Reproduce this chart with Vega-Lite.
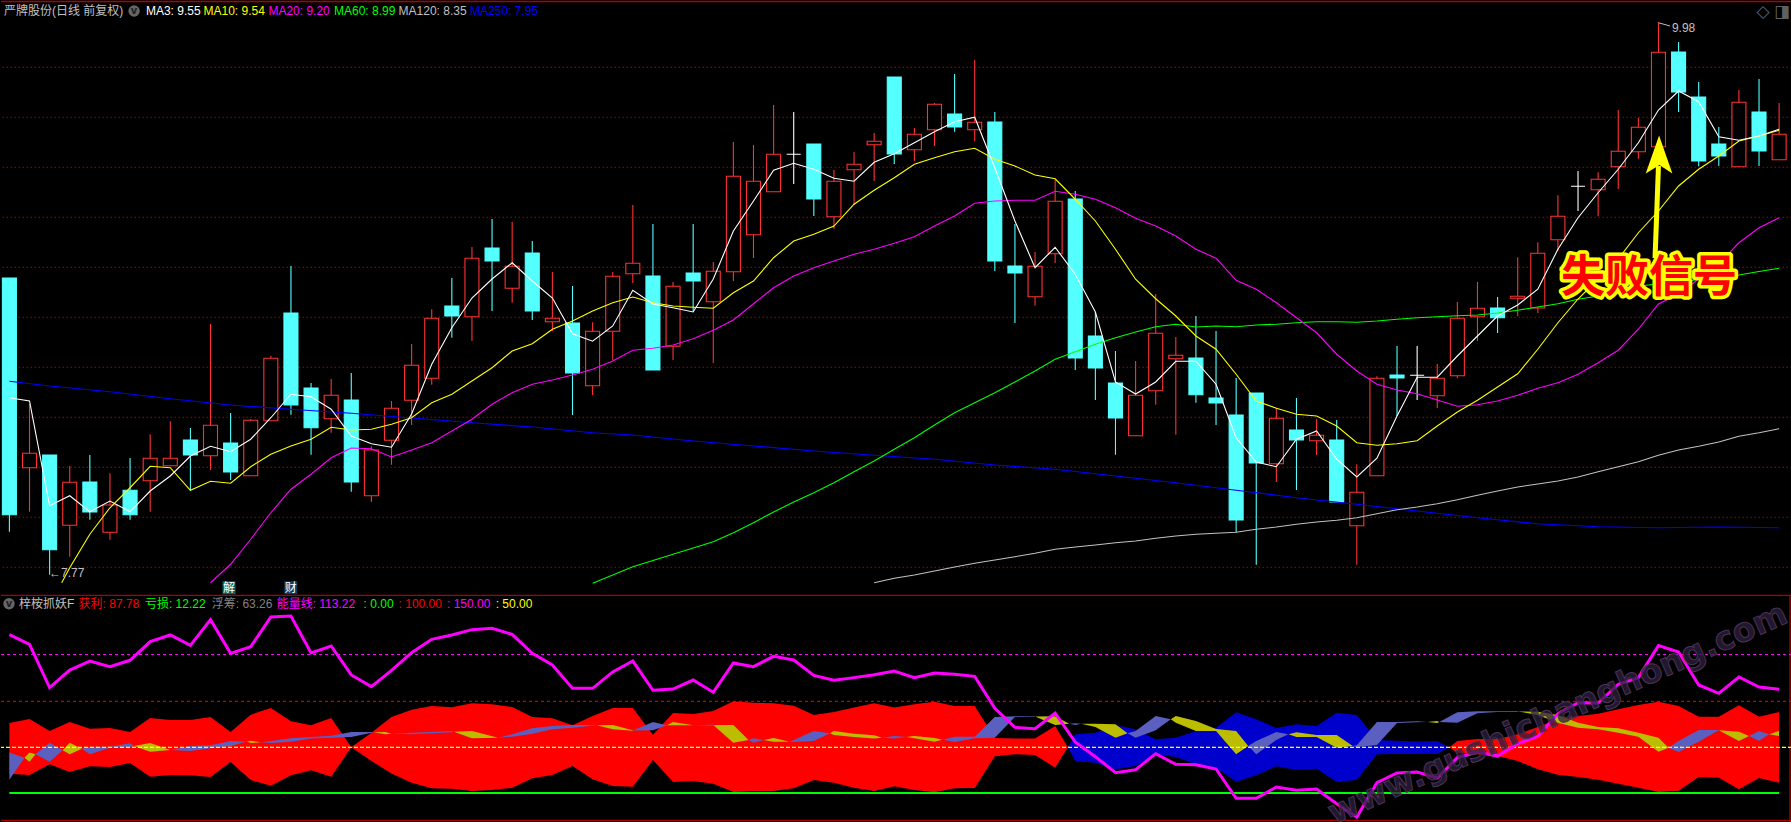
{"$schema":"https://vega.github.io/schema/vega-lite/v6.json","background":"#000000","padding":0,"spacing":0,"bounds":"flush","resolve":{"scale":{"color":"independent","fill":"independent","stroke":"independent"}},"config":{"view":{"stroke":null},"axis":{"disable":true},"concat":{"spacing":0}},
"datasets":{
"candles":[
{"n":0,"t":"d","o":8.957,"c":8.010,"h":8.957,"l":7.942},{"n":1,"t":"u","o":8.198,"c":8.256,"h":8.453,"l":8.022},{"n":2,"t":"d","o":8.249,"c":7.870,"h":8.249,"l":7.77},{"n":3,"t":"u","o":7.968,"c":8.140,"h":8.205,"l":7.842},{"n":4,"t":"d","o":8.141,"c":8.021,"h":8.249,"l":7.990},{"n":5,"t":"u","o":7.940,"c":8.049,"h":8.176,"l":7.910},{"n":6,"t":"d","o":8.108,"c":8.010,"h":8.237,"l":7.990},{"n":7,"t":"u","o":8.146,"c":8.236,"h":8.332,"l":8.022},{"n":8,"t":"u","o":8.206,"c":8.236,"h":8.384,"l":8.206},{"n":9,"t":"d","o":8.309,"c":8.249,"h":8.357,"l":8.105},
{"n":10,"t":"u","o":8.246,"c":8.368,"h":8.773,"l":8.189},{"n":11,"t":"d","o":8.297,"c":8.181,"h":8.417,"l":8.149},{"n":12,"t":"u","o":8.166,"c":8.388,"h":8.393,"l":8.166},{"n":13,"t":"u","o":8.386,"c":8.636,"h":8.645,"l":8.386},{"n":14,"t":"d","o":8.817,"c":8.449,"h":9.005,"l":8.410},{"n":15,"t":"d","o":8.517,"c":8.358,"h":8.537,"l":8.250},{"n":16,"t":"u","o":8.394,"c":8.488,"h":8.553,"l":8.338},{"n":17,"t":"d","o":8.469,"c":8.141,"h":8.577,"l":8.102},{"n":18,"t":"u","o":8.086,"c":8.269,"h":8.284,"l":8.061},{"n":19,"t":"u","o":8.308,"c":8.436,"h":8.465,"l":8.210},
{"n":20,"t":"u","o":8.468,"c":8.608,"h":8.693,"l":8.369},{"n":21,"t":"u","o":8.556,"c":8.796,"h":8.832,"l":8.530},{"n":22,"t":"d","o":8.845,"c":8.805,"h":8.957,"l":8.718},{"n":23,"t":"u","o":8.802,"c":9.036,"h":9.081,"l":8.705},{"n":24,"t":"d","o":9.077,"c":9.025,"h":9.193,"l":8.825},{"n":25,"t":"u","o":8.916,"c":9.004,"h":9.181,"l":8.858},{"n":26,"t":"d","o":9.057,"c":8.825,"h":9.105,"l":8.789},{"n":27,"t":"u","o":8.782,"c":8.796,"h":8.981,"l":8.745},{"n":28,"t":"d","o":8.777,"c":8.577,"h":8.925,"l":8.409},{"n":29,"t":"u","o":8.526,"c":8.744,"h":8.780,"l":8.489},
{"n":30,"t":"u","o":8.744,"c":8.964,"h":8.981,"l":8.628},{"n":31,"t":"u","o":8.974,"c":9.016,"h":9.249,"l":8.937},{"n":32,"t":"d","o":8.965,"c":8.589,"h":9.173,"l":8.589},{"n":33,"t":"u","o":8.684,"c":8.924,"h":8.941,"l":8.629},{"n":34,"t":"d","o":8.977,"c":8.945,"h":9.173,"l":8.825},{"n":35,"t":"u","o":8.862,"c":8.984,"h":9.021,"l":8.617},{"n":36,"t":"u","o":8.982,"c":9.364,"h":9.501,"l":8.945},{"n":37,"t":"u","o":9.130,"c":9.344,"h":9.489,"l":9.037},{"n":38,"t":"u","o":9.302,"c":9.452,"h":9.649,"l":9.302},{"n":39,"t":"x","o":9.452,"c":9.452,"h":9.621,"l":9.333},
{"n":40,"t":"d","o":9.493,"c":9.273,"h":9.493,"l":9.205},{"n":41,"t":"u","o":9.202,"c":9.344,"h":9.389,"l":9.154},{"n":42,"t":"u","o":9.390,"c":9.412,"h":9.461,"l":9.249},{"n":43,"t":"u","o":9.490,"c":9.504,"h":9.537,"l":9.345},{"n":44,"t":"d","o":9.761,"c":9.453,"h":9.761,"l":9.413},{"n":45,"t":"u","o":9.470,"c":9.532,"h":9.557,"l":9.425},{"n":46,"t":"u","o":9.550,"c":9.652,"h":9.657,"l":9.485},{"n":47,"t":"d","o":9.613,"c":9.561,"h":9.773,"l":9.542},{"n":48,"t":"u","o":9.550,"c":9.580,"h":9.829,"l":9.505},{"n":49,"t":"d","o":9.581,"c":9.025,"h":9.621,"l":8.985},
{"n":50,"t":"d","o":9.005,"c":8.977,"h":9.173,"l":8.777},{"n":51,"t":"u","o":8.882,"c":9.004,"h":9.061,"l":8.846},{"n":52,"t":"u","o":9.054,"c":9.264,"h":9.349,"l":9.017},{"n":53,"t":"d","o":9.273,"c":8.637,"h":9.305,"l":8.589},{"n":54,"t":"d","o":8.725,"c":8.597,"h":8.821,"l":8.469},{"n":55,"t":"d","o":8.537,"c":8.397,"h":8.665,"l":8.250},{"n":56,"t":"u","o":8.326,"c":8.488,"h":8.625,"l":8.326},{"n":57,"t":"u","o":8.506,"c":8.736,"h":8.893,"l":8.450},{"n":58,"t":"u","o":8.634,"c":8.648,"h":8.721,"l":8.330},{"n":59,"t":"d","o":8.637,"c":8.490,"h":8.805,"l":8.458},
{"n":60,"t":"d","o":8.477,"c":8.457,"h":8.745,"l":8.369},{"n":61,"t":"d","o":8.409,"c":7.989,"h":8.557,"l":7.940},{"n":62,"t":"d","o":8.497,"c":8.217,"h":8.497,"l":7.810},{"n":63,"t":"u","o":8.214,"c":8.396,"h":8.438,"l":8.141},{"n":64,"t":"d","o":8.349,"c":8.309,"h":8.477,"l":8.109},{"n":65,"t":"u","o":8.306,"c":8.328,"h":8.393,"l":8.249},{"n":66,"t":"d","o":8.309,"c":8.061,"h":8.389,"l":8.061},{"n":67,"t":"u","o":7.966,"c":8.100,"h":8.212,"l":7.810},{"n":68,"t":"u","o":8.166,"c":8.556,"h":8.564,"l":8.166},{"n":69,"t":"d","o":8.569,"c":8.557,"h":8.685,"l":8.405},
{"n":70,"t":"x","o":8.568,"c":8.568,"h":8.685,"l":8.469},{"n":71,"t":"u","o":8.486,"c":8.556,"h":8.613,"l":8.437},{"n":72,"t":"u","o":8.566,"c":8.796,"h":8.861,"l":8.557},{"n":73,"t":"u","o":8.802,"c":8.836,"h":8.941,"l":8.705},{"n":74,"t":"d","o":8.837,"c":8.798,"h":8.881,"l":8.737},{"n":75,"t":"u","o":8.876,"c":8.884,"h":9.040,"l":8.804},{"n":76,"t":"u","o":8.837,"c":9.056,"h":9.100,"l":8.817},{"n":77,"t":"u","o":9.110,"c":9.204,"h":9.288,"l":9.065},{"n":78,"t":"x","o":9.324,"c":9.324,"h":9.385,"l":9.225},{"n":79,"t":"u","o":9.310,"c":9.352,"h":9.380,"l":9.204},
{"n":80,"t":"u","o":9.402,"c":9.464,"h":9.629,"l":9.313},{"n":81,"t":"u","o":9.462,"c":9.560,"h":9.598,"l":9.434},{"n":82,"t":"u","o":9.482,"c":9.860,"h":9.98,"l":9.482},{"n":83,"t":"d","o":9.861,"c":9.701,"h":9.901,"l":9.621},{"n":84,"t":"d","o":9.681,"c":9.425,"h":9.741,"l":9.404},{"n":85,"t":"d","o":9.493,"c":9.445,"h":9.561,"l":9.405},{"n":86,"t":"u","o":9.402,"c":9.660,"h":9.709,"l":9.402},{"n":87,"t":"d","o":9.621,"c":9.465,"h":9.753,"l":9.405},{"n":88,"t":"u","o":9.430,"c":9.532,"h":9.657,"l":9.430}],
"ma3":[{"n":0,"p":8.478},{"n":1,"p":8.465},{"n":2,"p":8.046},{"n":3,"p":8.086},{"n":4,"p":8.022},{"n":5,"p":8.065},{"n":6,"p":8.022},{"n":7,"p":8.105},{"n":8,"p":8.165},{"n":9,"p":8.245},{"n":10,"p":8.284},{"n":11,"p":8.262},{"n":12,"p":8.312},{"n":13,"p":8.398},{"n":14,"p":8.492},{"n":15,"p":8.482},{"n":16,"p":8.432},{"n":17,"p":8.325},{"n":18,"p":8.294},{"n":19,"p":8.280},{"n":20,"p":8.413},{"n":21,"p":8.612},{"n":22,"p":8.758},{"n":23,"p":8.877},{"n":24,"p":8.953},{"n":25,"p":9.018},{"n":26,"p":8.945},{"n":27,"p":8.877},{"n":28,"p":8.734},{"n":29,"p":8.704},{"n":30,"p":8.765},{"n":31,"p":8.908},{"n":32,"p":8.853},{"n":33,"p":8.838},{"n":34,"p":8.821},{"n":35,"p":8.953},{"n":36,"p":9.145},{"n":37,"p":9.265},{"n":38,"p":9.388},{"n":39,"p":9.416},{"n":40,"p":9.392},{"n":41,"p":9.356},{"n":42,"p":9.344},{"n":43,"p":9.420},{"n":44,"p":9.454},{"n":45,"p":9.498},{"n":46,"p":9.542},{"n":47,"p":9.582},{"n":48,"p":9.600},{"n":49,"p":9.398},{"n":50,"p":9.185},{"n":51,"p":8.998},{"n":52,"p":9.080},{"n":53,"p":8.972},{"n":54,"p":8.821},{"n":55,"p":8.541},{"n":56,"p":8.493},{"n":57,"p":8.541},{"n":58,"p":8.624},{"n":59,"p":8.624},{"n":60,"p":8.532},{"n":61,"p":8.318},{"n":62,"p":8.221},{"n":63,"p":8.202},{"n":64,"p":8.312},{"n":65,"p":8.345},{"n":66,"p":8.232},{"n":67,"p":8.161},{"n":68,"p":8.236},{"n":69,"p":8.405},{"n":70,"p":8.560},{"n":71,"p":8.560},{"n":72,"p":8.645},{"n":73,"p":8.725},{"n":74,"p":8.805},{"n":75,"p":8.849},{"n":76,"p":8.912},{"n":77,"p":9.072},{"n":78,"p":9.198},{"n":79,"p":9.298},{"n":80,"p":9.392},{"n":81,"p":9.498},{"n":82,"p":9.629},{"n":83,"p":9.705},{"n":84,"p":9.662},{"n":85,"p":9.522},{"n":86,"p":9.508},{"n":87,"p":9.525},{"n":88,"p":9.552}],
"ma10":[{"n":2.6,"p":7.738},{"n":3,"p":7.798},{"n":4,"p":7.932},{"n":5,"p":8.038},{"n":6,"p":8.118},{"n":7,"p":8.204},{"n":8,"p":8.198},{"n":9,"p":8.108},{"n":10,"p":8.144},{"n":11,"p":8.136},{"n":12,"p":8.202},{"n":13,"p":8.252},{"n":14,"p":8.285},{"n":15,"p":8.312},{"n":16,"p":8.360},{"n":17,"p":8.349},{"n":18,"p":8.352},{"n":19,"p":8.372},{"n":20,"p":8.398},{"n":21,"p":8.458},{"n":22,"p":8.492},{"n":23,"p":8.545},{"n":24,"p":8.598},{"n":25,"p":8.665},{"n":26,"p":8.694},{"n":27,"p":8.752},{"n":28,"p":8.785},{"n":29,"p":8.825},{"n":30,"p":8.858},{"n":31,"p":8.881},{"n":32,"p":8.858},{"n":33,"p":8.845},{"n":34,"p":8.840},{"n":35,"p":8.836},{"n":36,"p":8.898},{"n":37,"p":8.945},{"n":38,"p":9.038},{"n":39,"p":9.105},{"n":40,"p":9.132},{"n":41,"p":9.165},{"n":42,"p":9.252},{"n":43,"p":9.308},{"n":44,"p":9.358},{"n":45,"p":9.412},{"n":46,"p":9.438},{"n":47,"p":9.462},{"n":48,"p":9.476},{"n":49,"p":9.432},{"n":50,"p":9.405},{"n":51,"p":9.369},{"n":52,"p":9.354},{"n":53,"p":9.272},{"n":54,"p":9.185},{"n":55,"p":9.072},{"n":56,"p":8.952},{"n":57,"p":8.874},{"n":58,"p":8.805},{"n":59,"p":8.725},{"n":60,"p":8.672},{"n":61,"p":8.572},{"n":62,"p":8.465},{"n":63,"p":8.436},{"n":64,"p":8.412},{"n":65,"p":8.405},{"n":66,"p":8.365},{"n":67,"p":8.298},{"n":68,"p":8.288},{"n":69,"p":8.294},{"n":70,"p":8.306},{"n":71,"p":8.365},{"n":72,"p":8.421},{"n":73,"p":8.468},{"n":74,"p":8.521},{"n":75,"p":8.574},{"n":76,"p":8.672},{"n":77,"p":8.778},{"n":78,"p":8.873},{"n":79,"p":8.953},{"n":80,"p":9.033},{"n":81,"p":9.138},{"n":82,"p":9.225},{"n":83,"p":9.325},{"n":84,"p":9.392},{"n":85,"p":9.445},{"n":86,"p":9.505},{"n":87,"p":9.525},{"n":88,"p":9.548}],
"ma20":[{"n":10,"p":7.738},{"n":11,"p":7.812},{"n":12,"p":7.912},{"n":13,"p":8.018},{"n":14,"p":8.112},{"n":15,"p":8.172},{"n":16,"p":8.238},{"n":17,"p":8.277},{"n":18,"p":8.274},{"n":19,"p":8.241},{"n":20,"p":8.269},{"n":21,"p":8.298},{"n":22,"p":8.345},{"n":23,"p":8.392},{"n":24,"p":8.452},{"n":25,"p":8.498},{"n":26,"p":8.532},{"n":27,"p":8.549},{"n":28,"p":8.569},{"n":29,"p":8.592},{"n":30,"p":8.625},{"n":31,"p":8.668},{"n":32,"p":8.676},{"n":33,"p":8.689},{"n":34,"p":8.714},{"n":35,"p":8.748},{"n":36,"p":8.789},{"n":37,"p":8.854},{"n":38,"p":8.918},{"n":39,"p":8.965},{"n":40,"p":8.998},{"n":41,"p":9.025},{"n":42,"p":9.052},{"n":43,"p":9.072},{"n":44,"p":9.096},{"n":45,"p":9.122},{"n":46,"p":9.165},{"n":47,"p":9.205},{"n":48,"p":9.256},{"n":49,"p":9.265},{"n":50,"p":9.268},{"n":51,"p":9.268},{"n":52,"p":9.304},{"n":53,"p":9.292},{"n":54,"p":9.272},{"n":55,"p":9.238},{"n":56,"p":9.196},{"n":57,"p":9.165},{"n":58,"p":9.125},{"n":59,"p":9.072},{"n":60,"p":9.036},{"n":61,"p":8.948},{"n":62,"p":8.912},{"n":63,"p":8.858},{"n":64,"p":8.798},{"n":65,"p":8.738},{"n":66,"p":8.652},{"n":67,"p":8.585},{"n":68,"p":8.532},{"n":69,"p":8.509},{"n":70,"p":8.494},{"n":71,"p":8.469},{"n":72,"p":8.444},{"n":73,"p":8.450},{"n":74,"p":8.465},{"n":75,"p":8.488},{"n":76,"p":8.516},{"n":77,"p":8.538},{"n":78,"p":8.572},{"n":79,"p":8.618},{"n":80,"p":8.668},{"n":81,"p":8.752},{"n":82,"p":8.853},{"n":83,"p":8.893},{"n":84,"p":8.953},{"n":85,"p":9.013},{"n":86,"p":9.098},{"n":87,"p":9.158},{"n":88,"p":9.198}],
"ma60":[{"n":29,"p":7.736},{"n":31,"p":7.802},{"n":33,"p":7.852},{"n":35,"p":7.902},{"n":36,"p":7.938},{"n":37,"p":7.978},{"n":38,"p":8.021},{"n":39,"p":8.061},{"n":40,"p":8.098},{"n":41,"p":8.138},{"n":42,"p":8.182},{"n":43,"p":8.225},{"n":44,"p":8.272},{"n":45,"p":8.318},{"n":46,"p":8.369},{"n":47,"p":8.418},{"n":48,"p":8.458},{"n":49,"p":8.498},{"n":50,"p":8.541},{"n":51,"p":8.585},{"n":52,"p":8.632},{"n":53,"p":8.662},{"n":54,"p":8.692},{"n":55,"p":8.718},{"n":56,"p":8.741},{"n":57,"p":8.762},{"n":58,"p":8.772},{"n":59,"p":8.761},{"n":60,"p":8.765},{"n":61,"p":8.762},{"n":62,"p":8.769},{"n":63,"p":8.772},{"n":64,"p":8.778},{"n":65,"p":8.782},{"n":66,"p":8.782},{"n":67,"p":8.780},{"n":68,"p":8.785},{"n":69,"p":8.792},{"n":70,"p":8.798},{"n":71,"p":8.802},{"n":72,"p":8.806},{"n":73,"p":8.809},{"n":74,"p":8.817},{"n":75,"p":8.828},{"n":76,"p":8.841},{"n":77,"p":8.854},{"n":78,"p":8.872},{"n":79,"p":8.885},{"n":80,"p":8.905},{"n":81,"p":8.925},{"n":82,"p":8.933},{"n":83,"p":8.941},{"n":84,"p":8.951},{"n":85,"p":8.961},{"n":86,"p":8.969},{"n":87,"p":8.983},{"n":88,"p":8.996}],
"ma120":[{"n":43,"p":7.738},{"n":44,"p":7.756},{"n":45,"p":7.769},{"n":46,"p":7.785},{"n":47,"p":7.801},{"n":48,"p":7.816},{"n":49,"p":7.829},{"n":50,"p":7.842},{"n":51,"p":7.856},{"n":52,"p":7.872},{"n":53,"p":7.881},{"n":54,"p":7.889},{"n":55,"p":7.898},{"n":56,"p":7.905},{"n":57,"p":7.916},{"n":58,"p":7.925},{"n":59,"p":7.932},{"n":60,"p":7.936},{"n":61,"p":7.940},{"n":62,"p":7.952},{"n":63,"p":7.961},{"n":64,"p":7.972},{"n":65,"p":7.981},{"n":66,"p":7.988},{"n":67,"p":7.998},{"n":68,"p":8.014},{"n":69,"p":8.030},{"n":70,"p":8.041},{"n":71,"p":8.054},{"n":72,"p":8.070},{"n":73,"p":8.088},{"n":74,"p":8.105},{"n":75,"p":8.121},{"n":76,"p":8.133},{"n":77,"p":8.145},{"n":78,"p":8.161},{"n":79,"p":8.182},{"n":80,"p":8.202},{"n":81,"p":8.222},{"n":82,"p":8.248},{"n":83,"p":8.269},{"n":84,"p":8.284},{"n":85,"p":8.301},{"n":86,"p":8.324},{"n":87,"p":8.338},{"n":88,"p":8.354}],
"ma250":[{"n":0,"p":8.544},{"n":2,"p":8.525},{"n":5,"p":8.502},{"n":8,"p":8.474},{"n":11,"p":8.449},{"n":14,"p":8.432},{"n":17,"p":8.416},{"n":20,"p":8.397},{"n":23,"p":8.378},{"n":26,"p":8.361},{"n":29,"p":8.338},{"n":31,"p":8.329},{"n":34,"p":8.305},{"n":37,"p":8.285},{"n":40,"p":8.265},{"n":43,"p":8.248},{"n":46,"p":8.232},{"n":49,"p":8.209},{"n":52,"p":8.192},{"n":55,"p":8.165},{"n":58,"p":8.138},{"n":61,"p":8.108},{"n":64,"p":8.078},{"n":67,"p":8.052},{"n":70,"p":8.025},{"n":73,"p":7.998},{"n":76,"p":7.974},{"n":79,"p":7.962},{"n":82,"p":7.958},{"n":85,"p":7.961},{"n":88,"p":7.958}],
"energy":[{"n":0,"v":172.7},{"n":1,"v":162.1},{"n":2,"v":114.9},{"n":3,"v":134.1},{"n":4,"v":143.9},{"n":5,"v":137.8},{"n":6,"v":144.7},{"n":7,"v":165},{"n":8,"v":172.3},{"n":9,"v":161},{"n":10,"v":189},{"n":11,"v":152.3},{"n":12,"v":159.6},{"n":13,"v":191.9},{"n":14,"v":193},{"n":15,"v":152.7},{"n":16,"v":160.3},{"n":17,"v":128.7},{"n":18,"v":116},{"n":19,"v":133.8},{"n":20,"v":153},{"n":21,"v":167.6},{"n":22,"v":172.3},{"n":23,"v":178.1},{"n":24,"v":179.6},{"n":25,"v":173},{"n":26,"v":152.3},{"n":27,"v":139.6},{"n":28,"v":114.1},{"n":29,"v":114.1},{"n":30,"v":132},{"n":31,"v":143.9},{"n":32,"v":112},{"n":33,"v":113.4},{"n":34,"v":123.2},{"n":35,"v":109.8},{"n":36,"v":141.8},{"n":37,"v":137.8},{"n":38,"v":149},{"n":39,"v":145},{"n":40,"v":128.3},{"n":41,"v":122.9},{"n":42,"v":125.8},{"n":43,"v":129},{"n":44,"v":133},{"n":45,"v":125.8},{"n":46,"v":130.9},{"n":47,"v":129.4},{"n":48,"v":127.2},{"n":49,"v":92.3},{"n":50,"v":71.6},{"n":51,"v":70.2},{"n":52,"v":87.2},{"n":53,"v":55.6},{"n":54,"v":39.6},{"n":55,"v":22.2},{"n":56,"v":25.4},{"n":57,"v":42.9},{"n":58,"v":31.3},{"n":59,"v":30.9},{"n":60,"v":26.2},{"n":61,"v":-5.8},{"n":62,"v":-5.8},{"n":63,"v":6.5},{"n":64,"v":2.9},{"n":65,"v":4.4},{"n":66,"v":-11.6},{"n":67,"v":-26.2},{"n":68,"v":11.3},{"n":69,"v":21.8},{"n":70,"v":22.9},{"n":71,"v":16.4},{"n":72,"v":38.5},{"n":73,"v":44.7},{"n":74,"v":40.3},{"n":75,"v":53.8},{"n":76,"v":61.8},{"n":77,"v":86.5},{"n":78,"v":98.5},{"n":79,"v":98.1},{"n":80,"v":118.5},{"n":81,"v":125.8},{"n":82,"v":160.7},{"n":83,"v":153.8},{"n":84,"v":117.8},{"n":85,"v":108.7},{"n":86,"v":126.5},{"n":87,"v":115.6},{"n":88,"v":113.2}],
"band":[{"g":"r1","k":"r","n":0,"a":76.3,"b":21.1},{"g":"r1","k":"r","n":1,"a":80.7,"b":19.6},{"g":"r1","k":"r","n":2,"a":67.6,"b":31.3},{"g":"r1","k":"r","n":3,"a":77.4,"b":22.9},{"g":"r1","k":"r","n":4,"a":70.2,"b":29.1},{"g":"r1","k":"r","n":5,"a":70.9,"b":28.4},{"g":"r1","k":"r","n":6,"a":66.5,"b":32.7},{"g":"r1","k":"r","n":7,"a":81.8,"b":17.8},{"g":"r1","k":"r","n":8,"a":79.6,"b":19.6},{"g":"r1","k":"r","n":9,"a":79.6,"b":19.3},{"g":"r1","k":"r","n":10,"a":82.9,"b":17.4},{"g":"r1","k":"r","n":11,"a":66.5,"b":33.8},{"g":"r1","k":"r","n":12,"a":85.4,"b":14.2},{"g":"r1","k":"r","n":13,"a":92.7,"b":8},{"g":"r1","k":"r","n":14,"a":78.2,"b":19.3},{"g":"r1","k":"r","n":15,"a":73.8,"b":24.7},{"g":"r1","k":"r","n":16,"a":81.8,"b":17.8},{"g":"r1","k":"r","n":17,"a":49.8,"b":49.8},
{"g":"r2","k":"r","n":17,"a":49.8,"b":49.8},{"g":"r2","k":"r","n":18,"a":65.8,"b":34.9},{"g":"r2","k":"r","n":19,"a":82.9,"b":21.4},{"g":"r2","k":"r","n":20,"a":90.9,"b":11.3},{"g":"r2","k":"r","n":21,"a":94.9,"b":5.1},{"g":"r2","k":"r","n":22,"a":93.4,"b":4.7},{"g":"r2","k":"r","n":23,"a":97.8,"b":2.2},{"g":"r2","k":"r","n":24,"a":96.7,"b":3.3},{"g":"r2","k":"r","n":25,"a":93.8,"b":5.8},{"g":"r2","k":"r","n":26,"a":82.9,"b":16},{"g":"r2","k":"r","n":27,"a":81.4,"b":19.6},{"g":"r2","k":"r","n":28,"a":73.8,"b":29.4},{"g":"r2","k":"r","n":29,"a":84,"b":14.9},{"g":"r2","k":"r","n":30,"a":92.7,"b":7.6},{"g":"r2","k":"r","n":31,"a":92.7,"b":6.9},{"g":"r2","k":"r","n":32,"a":63.6,"b":36},{"g":"r2","k":"r","n":33,"a":87.2,"b":12},{"g":"r2","k":"r","n":34,"a":86.1,"b":13.1},{"g":"r2","k":"r","n":35,"a":89.4,"b":10.2},{"g":"r2","k":"r","n":36,"a":100,"b":1.1},{"g":"r2","k":"r","n":37,"a":98.5,"b":1.8},{"g":"r2","k":"r","n":38,"a":97.8,"b":2.2},{"g":"r2","k":"r","n":39,"a":95.2,"b":5.1},{"g":"r2","k":"r","n":40,"a":85.1,"b":14.2},{"g":"r2","k":"r","n":41,"a":88.3,"b":11.3},{"g":"r2","k":"r","n":42,"a":93.1,"b":5.8},{"g":"r2","k":"r","n":43,"a":97.8,"b":2.2},{"g":"r2","k":"r","n":44,"a":93.1,"b":7.3},{"g":"r2","k":"r","n":45,"a":96.7,"b":3.3},{"g":"r2","k":"r","n":46,"a":99.6,"b":0.7},{"g":"r2","k":"r","n":47,"a":94.9,"b":5.1},{"g":"r2","k":"r","n":48,"a":94.9,"b":5.5},{"g":"r2","k":"r","n":49,"a":60,"b":40},{"g":"r2","k":"r","n":50,"a":59.3,"b":42.2},{"g":"r2","k":"r","n":51,"a":59.3,"b":41.4},{"g":"r2","k":"r","n":52,"a":73.1,"b":27.6},{"g":"r2","k":"r","n":52.63,"a":49.8,"b":49.8},
{"g":"b1","k":"b","n":52.63,"a":49.8,"b":49.8},{"g":"b1","k":"b","n":53,"a":64,"b":34.9},{"g":"b1","k":"b","n":54,"a":65.8,"b":33.1},{"g":"b1","k":"b","n":55,"a":73.8,"b":25.8},{"g":"b1","k":"b","n":56,"a":69.4,"b":29.4},{"g":"b1","k":"b","n":57,"a":58.5,"b":42.2},{"g":"b1","k":"b","n":58,"a":60.3,"b":39.3},{"g":"b1","k":"b","n":59,"a":67.6,"b":31.3},{"g":"b1","k":"b","n":60,"a":71.2,"b":27.6},{"g":"b1","k":"b","n":61,"a":88,"b":12.4},{"g":"b1","k":"b","n":62,"a":80.3,"b":19.3},{"g":"b1","k":"b","n":63,"a":70.9,"b":29.1},{"g":"b1","k":"b","n":64,"a":74.9,"b":25.1},{"g":"b1","k":"b","n":65,"a":73.1,"b":26.5},{"g":"b1","k":"b","n":66,"a":87.6,"b":12},{"g":"b1","k":"b","n":67,"a":85.1,"b":14.2},{"g":"b1","k":"b","n":68,"a":57.8,"b":42.2},{"g":"b1","k":"b","n":69,"a":57.1,"b":42.5},{"g":"b1","k":"b","n":70,"a":56.3,"b":42.5},{"g":"b1","k":"b","n":71,"a":56.7,"b":42.9},{"g":"b1","k":"b","n":71.6,"a":49.8,"b":49.8},
{"g":"r3","k":"r","n":71.6,"a":49.8,"b":49.8},{"g":"r3","k":"r","n":72,"a":56.7,"b":44},{"g":"r3","k":"r","n":73,"a":58.9,"b":42.2},{"g":"r3","k":"r","n":74,"a":58.9,"b":40.3},{"g":"r3","k":"r","n":75,"a":64,"b":34.9},{"g":"r3","k":"r","n":76,"a":72,"b":25.8},{"g":"r3","k":"r","n":77,"a":80.3,"b":20},{"g":"r3","k":"r","n":78,"a":84,"b":17.4},{"g":"r3","k":"r","n":79,"a":86.5,"b":14.5},{"g":"r3","k":"r","n":80,"a":91.2,"b":10.2},{"g":"r3","k":"r","n":81,"a":96,"b":5.8},{"g":"r3","k":"r","n":82,"a":99.6,"b":1.1},{"g":"r3","k":"r","n":83,"a":94.9,"b":2.5},{"g":"r3","k":"r","n":84,"a":83.2,"b":17.4},{"g":"r3","k":"r","n":85,"a":83.2,"b":16.7},{"g":"r3","k":"r","n":86,"a":95.6,"b":4},{"g":"r3","k":"r","n":87,"a":83.2,"b":16.4},{"g":"r3","k":"r","n":88,"a":88.3,"b":11.3}],
"ribbon":[{"g":1,"k":"v","n":0,"a":44.3,"b":14.5},{"g":1,"k":"v","n":0.75,"a":38.5,"b":38.5},{"g":2,"k":"o","n":0.75,"a":38.5,"b":38.5},{"g":2,"k":"o","n":1,"a":44.3,"b":34.2},{"g":2,"k":"o","n":1.3,"a":42.2,"b":42.2},{"g":3,"k":"v","n":1.3,"a":42.2,"b":42.2},{"g":3,"k":"v","n":2,"a":54.9,"b":34.2},{"g":3,"k":"v","n":2.65,"a":46.5,"b":46.5},{"g":4,"k":"o","n":2.65,"a":46.5,"b":46.5},{"g":4,"k":"o","n":3,"a":54.9,"b":42.2},{"g":4,"k":"o","n":3.6,"a":48.3,"b":48.3},{"g":5,"k":"v","n":3.6,"a":48.3,"b":48.3},{"g":5,"k":"v","n":4,"a":50.5,"b":42.2},{"g":5,"k":"v","n":5,"a":50.5,"b":49.4},{"g":5,"k":"v","n":6,"a":54.2,"b":50.2},{"g":5,"k":"v","n":6.2,"a":51.3,"b":51.3},{"g":6,"k":"o","n":6.2,"a":51.3,"b":51.3},{"g":6,"k":"o","n":7,"a":54.5,"b":45.1},{"g":6,"k":"o","n":8,"a":46.9,"b":46.9},{"g":7,"k":"v","n":8,"a":46.9,"b":46.9},{"g":7,"k":"v","n":9,"a":51.3,"b":45.8},{"g":7,"k":"v","n":10,"a":52,"b":48.7},{"g":7,"k":"v","n":11,"a":56.7,"b":51.3},{"g":7,"k":"v","n":11.8,"a":56.3,"b":56.3},{"g":8,"k":"o","n":11.8,"a":56.3,"b":56.3},{"g":8,"k":"o","n":12,"a":57.1,"b":54.5},{"g":8,"k":"o","n":12.5,"a":55.3,"b":55.3},{"g":9,"k":"v","n":12.5,"a":55.3,"b":55.3},{"g":9,"k":"v","n":13,"a":56.7,"b":54.5},{"g":9,"k":"v","n":14,"a":59.6,"b":56},{"g":9,"k":"v","n":15,"a":61.1,"b":59.3},{"g":9,"k":"v","n":16,"a":62.5,"b":60.3},{"g":9,"k":"v","n":17,"a":66.5,"b":61.1},{"g":9,"k":"v","n":18,"a":66.5,"b":65.8},{"g":9,"k":"v","n":18.1,"a":66.2,"b":66.2},{"g":10,"k":"o","n":18.1,"a":66.2,"b":66.2},{"g":10,"k":"o","n":18.7,"a":66.5,"b":64},{"g":10,"k":"o","n":19,"a":64.7,"b":64.7},{"g":11,"k":"v","n":19,"a":64.7,"b":64.7},{"g":11,"k":"v","n":20,"a":65.8,"b":64},{"g":11,"k":"v","n":21,"a":66.5,"b":65.1},{"g":11,"k":"v","n":22,"a":67.6,"b":66.2},{"g":11,"k":"v","n":22.1,"a":66.9,"b":66.9},{"g":12,"k":"o","n":22.1,"a":66.9,"b":66.9},{"g":12,"k":"o","n":23,"a":67.6,"b":59.6},{"g":12,"k":"o","n":24.3,"a":60.3,"b":60.3},{"g":13,"k":"v","n":24.3,"a":60.3,"b":60.3},{"g":13,"k":"v","n":25,"a":64,"b":61.4},{"g":13,"k":"v","n":26,"a":70.5,"b":64.7},{"g":13,"k":"v","n":27,"a":73.1,"b":69.4},{"g":13,"k":"v","n":28,"a":74.2,"b":71.2},{"g":13,"k":"v","n":29,"a":74.2,"b":73.4},{"g":13,"k":"v","n":29.2,"a":73.8,"b":73.8},{"g":14,"k":"o","n":29.2,"a":73.8,"b":73.8},{"g":14,"k":"o","n":30,"a":74.2,"b":69.4},{"g":14,"k":"o","n":31,"a":68.3,"b":68},{"g":15,"k":"v","n":31,"a":68.2,"b":68.2},{"g":15,"k":"v","n":32,"a":77.4,"b":68.3},{"g":15,"k":"v","n":32.7,"a":73.8,"b":73.8},{"g":16,"k":"o","n":32.7,"a":73.8,"b":73.8},{"g":16,"k":"o","n":33,"a":77.4,"b":73.8},{"g":16,"k":"o","n":34,"a":74,"b":74},{"g":17,"k":"v","n":34,"a":74,"b":74},{"g":17,"k":"v","n":35,"a":74.5,"b":73.4},{"g":18,"k":"o","n":35,"a":74.2,"b":74.2},{"g":18,"k":"o","n":36,"a":74.2,"b":54.9},{"g":18,"k":"o","n":36.75,"a":57.8,"b":57.8},{"g":19,"k":"v","n":36.75,"a":57.8,"b":57.8},{"g":19,"k":"v","n":37,"a":59.6,"b":54.9},{"g":19,"k":"v","n":37.5,"a":57.8,"b":57.8},{"g":20,"k":"o","n":37.5,"a":57.8,"b":57.8},{"g":20,"k":"o","n":38,"a":60,"b":56},{"g":20,"k":"o","n":38.8,"a":56,"b":56},{"g":21,"k":"v","n":38.8,"a":56,"b":56},{"g":21,"k":"v","n":39,"a":57.8,"b":55.6},{"g":21,"k":"v","n":40,"a":67.6,"b":56.7},{"g":21,"k":"v","n":40.8,"a":65.1,"b":65.1},{"g":22,"k":"o","n":40.8,"a":65.1,"b":65.1},{"g":22,"k":"o","n":41,"a":67.6,"b":63.2},{"g":22,"k":"o","n":42,"a":64.7,"b":61.1},{"g":22,"k":"o","n":43,"a":62.9,"b":59.3},{"g":22,"k":"o","n":43.4,"a":60.3,"b":60.3},{"g":23,"k":"v","n":43.4,"a":60.3,"b":60.3},{"g":23,"k":"v","n":44,"a":62.2,"b":59.3},{"g":23,"k":"v","n":44.6,"a":61.1,"b":61.1},{"g":24,"k":"o","n":44.6,"a":61.1,"b":61.1},{"g":24,"k":"o","n":45,"a":62.2,"b":59.6},{"g":24,"k":"o","n":46,"a":60,"b":56},{"g":24,"k":"o","n":46.4,"a":58.2,"b":58.2},{"g":25,"k":"v","n":46.4,"a":58.2,"b":58.2},{"g":25,"k":"v","n":47,"a":61.4,"b":55.6},{"g":25,"k":"v","n":48,"a":61.4,"b":59.6},{"g":25,"k":"v","n":49,"a":82.9,"b":60.3},{"g":25,"k":"v","n":50,"a":83.6,"b":82.9},{"g":25,"k":"v","n":51,"a":83.6,"b":83.2},{"g":26,"k":"o","n":51,"a":83.4,"b":83.4},{"g":26,"k":"o","n":52,"a":83.6,"b":74.2},{"g":26,"k":"o","n":52.7,"a":75.6,"b":75.6},{"g":27,"k":"v","n":52.7,"a":75.6,"b":75.6},{"g":27,"k":"v","n":53,"a":76,"b":74.2},{"g":27,"k":"v","n":53.3,"a":75.6,"b":75.6},{"g":28,"k":"o","n":53.3,"a":75.6,"b":75.6},{"g":28,"k":"o","n":54,"a":75.6,"b":72},{"g":28,"k":"o","n":55,"a":74.9,"b":60.3},{"g":28,"k":"o","n":55.6,"a":65.1,"b":65.1},{"g":29,"k":"v","n":55.6,"a":65.1,"b":65.1},{"g":29,"k":"v","n":56,"a":67.6,"b":60.3},{"g":29,"k":"v","n":57,"a":84,"b":68.3},{"g":29,"k":"v","n":57.75,"a":80.3,"b":80.3},{"g":30,"k":"o","n":57.75,"a":80.3,"b":80.3},{"g":30,"k":"o","n":58,"a":84,"b":76.7},{"g":30,"k":"o","n":59,"a":78.5,"b":67.6},{"g":30,"k":"o","n":60,"a":69.8,"b":67.6},{"g":30,"k":"o","n":61,"a":67.6,"b":42.2},{"g":30,"k":"o","n":61.6,"a":51.3,"b":51.3},{"g":31,"k":"v","n":61.6,"a":51.3,"b":51.3},{"g":31,"k":"v","n":62,"a":56.7,"b":42.2},{"g":31,"k":"v","n":63,"a":66.5,"b":57.8},{"g":31,"k":"v","n":63.6,"a":64,"b":64},{"g":32,"k":"o","n":63.6,"a":64,"b":64},{"g":32,"k":"o","n":64,"a":66.2,"b":61.1},{"g":32,"k":"o","n":65,"a":63.2,"b":61.1},{"g":32,"k":"o","n":66,"a":63.2,"b":49.4},{"g":32,"k":"o","n":66.8,"a":51.3,"b":51.3},{"g":33,"k":"v","n":66.8,"a":51.3,"b":51.3},{"g":33,"k":"v","n":67,"a":52,"b":50.2},{"g":33,"k":"v","n":68,"a":77.4,"b":52.3},{"g":33,"k":"v","n":69,"a":77.4,"b":76.3},{"g":33,"k":"v","n":70,"a":78.2,"b":77.1},{"g":33,"k":"v","n":70.5,"a":77.4,"b":77.4},{"g":34,"k":"o","n":70.5,"a":77.4,"b":77.4},{"g":34,"k":"o","n":71,"a":78.5,"b":76.3},{"g":34,"k":"o","n":71.1,"a":77.4,"b":77.4},{"g":35,"k":"v","n":71.1,"a":77.4,"b":77.4},{"g":35,"k":"v","n":72,"a":88,"b":76.7},{"g":35,"k":"v","n":73,"a":89.1,"b":86.9},{"g":35,"k":"v","n":74,"a":89.1,"b":88.3},{"g":35,"k":"v","n":75,"a":89.4,"b":88.7},{"g":36,"k":"o","n":75,"a":89,"b":89},{"g":36,"k":"o","n":76,"a":88.7,"b":85.1},{"g":36,"k":"o","n":77,"a":85.1,"b":76.7},{"g":36,"k":"o","n":78,"a":76.7,"b":71.2},{"g":36,"k":"o","n":79,"a":72,"b":69.4},{"g":36,"k":"o","n":80,"a":70.5,"b":65.8},{"g":36,"k":"o","n":81,"a":65.8,"b":61.4},{"g":36,"k":"o","n":82,"a":60.3,"b":45.1},{"g":36,"k":"o","n":82.5,"a":49.4,"b":49.4},{"g":37,"k":"v","n":82.5,"a":49.4,"b":49.4},{"g":37,"k":"v","n":83,"a":56.7,"b":44.7},{"g":37,"k":"v","n":84,"a":68.7,"b":56},{"g":37,"k":"v","n":85,"a":68.7,"b":68.3},{"g":38,"k":"o","n":85,"a":68.5,"b":68.5},{"g":38,"k":"o","n":86,"a":66.9,"b":56.7},{"g":38,"k":"o","n":86.5,"a":62.2,"b":62.2},{"g":39,"k":"v","n":86.5,"a":62.2,"b":62.2},{"g":39,"k":"v","n":87,"a":67.6,"b":56.7},{"g":39,"k":"v","n":87.5,"a":64,"b":64},{"g":40,"k":"o","n":87.5,"a":64,"b":64},{"g":40,"k":"o","n":88,"a":67.6,"b":62.2}]
},
"vconcat":[
{"width":1791,"height":594,"resolve":{"scale":{"color":"independent"}},"layer":[
{"mark":{"type":"rule","stroke":"#a80000","strokeWidth":1,"strokeDash":[1.5,2.5]},"data":{"values":[{"p":9.8},{"p":9.6},{"p":9.4},{"p":9.2},{"p":9.0},{"p":8.8},{"p":8.6},{"p":8.4},{"p":8.2},{"p":8.0},{"p":7.8}]},"encoding":{"y":{"field":"p","type":"quantitative","scale":{"domain":[7.689,10.065],"nice":false,"zero":false}}}},
{"mark":{"type":"rule","stroke":"#b00000","strokeWidth":1.5},"data":{"values":[{"p":10.063}]},"encoding":{"y":{"field":"p","type":"quantitative"}}},
{"mark":{"type":"rule","strokeWidth":1.1},"data":{"name":"candles"},"encoding":{"x":{"field":"n","type":"quantitative","scale":{"domain":[-0.4177,88.64],"nice":false,"zero":false,"padding":0}},"y":{"field":"h","type":"quantitative"},"y2":{"field":"l"},"color":{"field":"t","type":"nominal","legend":null,"scale":{"domain":["u","d","x"],"range":["#ff3232","#54ffff","#ffffff"]}}}},
{"mark":{"type":"bar","size":14,"strokeWidth":1.1},"data":{"name":"candles"},"encoding":{"x":{"field":"n","type":"quantitative"},"y":{"field":"o","type":"quantitative"},"y2":{"field":"c"},"fill":{"field":"t","type":"nominal","legend":null,"scale":{"domain":["u","d","x"],"range":["#000000","#54ffff","#ffffff"]}},"stroke":{"field":"t","type":"nominal","legend":null,"scale":{"domain":["u","d","x"],"range":["#ff3232","#54ffff","#ffffff"]}}}},
{"mark":{"type":"line","stroke":"#0000ff","strokeWidth":1.2},"data":{"name":"ma250"},"encoding":{"x":{"field":"n","type":"quantitative"},"y":{"field":"p","type":"quantitative"}}},
{"mark":{"type":"line","stroke":"#c0c0c0","strokeWidth":1.1},"data":{"name":"ma120"},"encoding":{"x":{"field":"n","type":"quantitative"},"y":{"field":"p","type":"quantitative"}}},
{"mark":{"type":"line","stroke":"#00ff00","strokeWidth":1.1},"data":{"name":"ma60"},"encoding":{"x":{"field":"n","type":"quantitative"},"y":{"field":"p","type":"quantitative"}}},
{"mark":{"type":"line","stroke":"#ff00ff","strokeWidth":1.1},"data":{"name":"ma20"},"encoding":{"x":{"field":"n","type":"quantitative"},"y":{"field":"p","type":"quantitative"}}},
{"mark":{"type":"line","stroke":"#ffff00","strokeWidth":1.1},"data":{"name":"ma10"},"encoding":{"x":{"field":"n","type":"quantitative"},"y":{"field":"p","type":"quantitative"}}},
{"mark":{"type":"line","stroke":"#ffffff","strokeWidth":1.1},"data":{"name":"ma3"},"encoding":{"x":{"field":"n","type":"quantitative"},"y":{"field":"p","type":"quantitative"}}},
{"mark":{"type":"line","stroke":"#c0c0c0","strokeWidth":1},"data":{"values":[{"n":82,"p":9.978},{"n":82.58,"p":9.965}]},"encoding":{"x":{"field":"n","type":"quantitative"},"y":{"field":"p","type":"quantitative"}}},
{"mark":{"type":"line","stroke":"#ffff00","strokeWidth":5},"data":{"values":[{"n":81.83,"p":9.037},{"n":82.0,"p":9.405}]},"encoding":{"x":{"field":"n","type":"quantitative"},"y":{"field":"p","type":"quantitative"}}},
{"mark":{"type":"point","filled":true,"opacity":1,"fill":"#ffff00","stroke":null,"size":1444,"shape":"M0,-1L0.7,1L0.02,0.55L-0.7,1Z"},"data":{"values":[{"n":82.03,"p":9.451}]},"encoding":{"x":{"field":"n","type":"quantitative"},"y":{"field":"p","type":"quantitative"}}},
{"mark":{"type":"text","font":"Noto Sans CJK SC","fontWeight":"bold","fontSize":44,"stroke":"#ffff00","strokeWidth":7,"strokeJoin":"round","align":"center","baseline":"middle"},"data":{"values":[{"n":81.53,"p":8.953,"label":"失败信号"}]},"encoding":{"x":{"field":"n","type":"quantitative"},"y":{"field":"p","type":"quantitative"},"text":{"field":"label"}}},
{"mark":{"type":"text","font":"Noto Sans CJK SC","fontWeight":"bold","fontSize":44,"fill":"#ff0000","align":"center","baseline":"middle"},"data":{"values":[{"n":81.53,"p":8.953,"label":"失败信号"}]},"encoding":{"x":{"field":"n","type":"quantitative"},"y":{"field":"p","type":"quantitative"},"text":{"field":"label"}}},
{"mark":{"type":"point","filled":true,"opacity":1,"shape":"square","size":169},"data":{"values":[{"n":10.92,"p":7.718,"k":"解"},{"n":13.99,"p":7.718,"k":"财"}]},"encoding":{"x":{"field":"n","type":"quantitative"},"y":{"field":"p","type":"quantitative"},"color":{"field":"k","type":"nominal","legend":null,"scale":{"domain":["解","财"],"range":["#006a6a","#0a3d66"]}}}},
{"mark":{"type":"text","font":"Noto Sans CJK SC","fontSize":12,"fill":"#ffffff","align":"center","baseline":"middle"},"data":{"values":[{"n":10.92,"p":7.718,"k":"解"},{"n":13.99,"p":7.718,"k":"财"}]},"encoding":{"x":{"field":"n","type":"quantitative"},"y":{"field":"p","type":"quantitative"},"text":{"field":"k"}}},
{"mark":{"type":"point","filled":true,"opacity":1,"shape":"circle","size":130,"fill":"#666666","stroke":null},"data":{"values":[{"n":6.2,"p":10.025}]},"encoding":{"x":{"field":"n","type":"quantitative"},"y":{"field":"p","type":"quantitative"}}},
{"mark":{"type":"text","font":"DejaVu Sans","fontSize":17,"fill":"#606060","align":"center","baseline":"middle"},"data":{"values":[{"n":87.2,"p":10.022,"label":"◇"},{"n":88.15,"p":10.022,"label":"◨"}]},"encoding":{"x":{"field":"n","type":"quantitative"},"y":{"field":"p","type":"quantitative"},"text":{"field":"label"}}},
{"mark":{"type":"text","font":"DejaVu Sans","fontSize":10,"fontWeight":"bold","fill":"#202020","align":"center","baseline":"middle"},"data":{"values":[{"n":6.2,"p":10.025,"label":"v"}]},"encoding":{"x":{"field":"n","type":"quantitative"},"y":{"field":"p","type":"quantitative"},"text":{"field":"label"}}},
{"mark":{"type":"text","font":"Liberation Sans, Noto Sans CJK SC","fontSize":12,"align":"left","baseline":"middle"},"data":{"values":[{"n":-0.27,"p":10.025,"label":"严牌股份(日线 前复权)","s":"title"},{"n":6.79,"p":10.025,"label":"MA3: 9.55","s":"MA3"},{"n":9.65,"p":10.025,"label":"MA10: 9.54","s":"MA10"},{"n":12.88,"p":10.025,"label":"MA20: 9.20","s":"MA20"},{"n":16.14,"p":10.025,"label":"MA60: 8.99","s":"MA60"},{"n":19.35,"p":10.025,"label":"MA120: 8.35","s":"MA120"},{"n":22.9,"p":10.025,"label":"MA250: 7.95","s":"MA250"},{"n":82.67,"p":9.958,"label":"9.98","s":"title"},{"n":1.97,"p":7.778,"label":"←7.77","s":"title"}]},"encoding":{"x":{"field":"n","type":"quantitative"},"y":{"field":"p","type":"quantitative"},"text":{"field":"label"},"color":{"field":"s","type":"nominal","legend":null,"scale":{"domain":["title","MA3","MA10","MA20","MA60","MA120","MA250"],"range":["#c0c0c0","#ffffff","#ffff00","#ff00ff","#00ff00","#c0c0c0","#0000ff"]}}}}
]},
{"width":1791,"height":228,"resolve":{"scale":{"color":"independent"}},"layer":[
{"mark":{"type":"rule","stroke":"#b00000","strokeWidth":1.3},"data":{"values":[{"v":215.4},{"v":-29.8}]},"encoding":{"y":{"field":"v","type":"quantitative","scale":{"domain":[-32.7,215.9],"nice":false,"zero":false}}}},
{"mark":{"type":"rule","stroke":"#b00000","strokeWidth":1.3},"data":{"values":[{"n":88.54}]},"encoding":{"x":{"field":"n","type":"quantitative","scale":{"domain":[-0.4177,88.64],"nice":false,"zero":false}}}},
{"mark":{"type":"rule","stroke":"#ff00ff","strokeWidth":1,"strokeDash":[3,3]},"data":{"values":[{"v":151}]},"encoding":{"y":{"field":"v","type":"quantitative"}}},
{"mark":{"type":"rule","stroke":"#ff0000","strokeWidth":1,"strokeDash":[3,3]},"data":{"values":[{"v":100}]},"encoding":{"y":{"field":"v","type":"quantitative"}}},
{"mark":{"type":"area","interpolate":"linear"},"data":{"name":"band"},"encoding":{"x":{"field":"n","type":"quantitative"},"y":{"field":"a","type":"quantitative"},"y2":{"field":"b"},"detail":{"field":"g"},"color":{"field":"k","type":"nominal","legend":null,"scale":{"domain":["r","b"],"range":["#ff0000","#0000cc"]}}}},
{"mark":{"type":"area","interpolate":"linear"},"data":{"name":"ribbon"},"encoding":{"x":{"field":"n","type":"quantitative"},"y":{"field":"a","type":"quantitative"},"y2":{"field":"b"},"detail":{"field":"g"},"fill":{"field":"k","type":"nominal","legend":null,"scale":{"domain":["v","o"],"range":["#5b5fbf","#bdbd00"]}}}},
{"mark":{"type":"rule","stroke":"#ffffff","strokeWidth":1,"strokeDash":[1,5],"strokeDashOffset":3},"data":{"values":[{"v":49.8}]},"encoding":{"y":{"field":"v","type":"quantitative"}}},
{"mark":{"type":"rule","stroke":"#ffff00","strokeWidth":1.2,"strokeDash":[4,2]},"data":{"values":[{"v":49.8}]},"encoding":{"y":{"field":"v","type":"quantitative"}}},
{"mark":{"type":"rule","stroke":"#00ff00","strokeWidth":2.2},"data":{"values":[{"n":0,"m":88,"v":0}]},"encoding":{"x":{"field":"n","type":"quantitative"},"x2":{"field":"m"},"y":{"field":"v","type":"quantitative"}}},
{"mark":{"type":"line","stroke":"#ff00ff","strokeWidth":3},"data":{"name":"energy"},"encoding":{"x":{"field":"n","type":"quantitative"},"y":{"field":"v","type":"quantitative"}}},
{"mark":{"type":"text","clip":true,"font":"DejaVu Sans","fontSize":33,"fontWeight":"bold","angle":-24,"align":"center","baseline":"middle","fill":"#2d1f3f","fillOpacity":0.75,"stroke":"#4a3355","strokeWidth":1},"data":{"values":[{"n":77,"v":86.1,"label":"www.gushichanghong.com"}]},"encoding":{"x":{"field":"n","type":"quantitative"},"y":{"field":"v","type":"quantitative"},"text":{"field":"label"}}},
{"mark":{"type":"point","filled":true,"opacity":1,"shape":"circle","size":130,"fill":"#666666","stroke":null},"data":{"values":[{"n":-0.02,"v":206.4}]},"encoding":{"x":{"field":"n","type":"quantitative"},"y":{"field":"v","type":"quantitative"}}},
{"mark":{"type":"text","font":"DejaVu Sans","fontSize":10,"fontWeight":"bold","fill":"#202020","align":"center","baseline":"middle"},"data":{"values":[{"n":-0.02,"v":206.4,"label":"v"}]},"encoding":{"x":{"field":"n","type":"quantitative"},"y":{"field":"v","type":"quantitative"},"text":{"field":"label"}}},
{"mark":{"type":"text","font":"Liberation Sans, Noto Sans CJK SC","fontSize":12,"align":"left","baseline":"middle"},"data":{"values":[{"n":0.48,"v":206.4,"label":"梓桉抓妖F","s":"name"},{"n":3.44,"v":206.4,"label":"获利: 87.78","s":"profit"},{"n":6.74,"v":206.4,"label":"亏损: 12.22","s":"loss"},{"n":10.06,"v":206.4,"label":"浮筹: 63.26","s":"float"},{"n":13.29,"v":206.4,"label":"能量线: 113.22","s":"energy"},{"n":17.61,"v":206.4,"label":": 0.00","s":"loss"},{"n":19.35,"v":206.4,"label":": 100.00","s":"profit"},{"n":21.76,"v":206.4,"label":": 150.00","s":"energy"},{"n":24.18,"v":206.4,"label":": 50.00","s":"fifty"}]},"encoding":{"x":{"field":"n","type":"quantitative"},"y":{"field":"v","type":"quantitative"},"text":{"field":"label"},"color":{"field":"s","type":"nominal","legend":null,"scale":{"domain":["name","profit","loss","float","energy","fifty"],"range":["#c0c0c0","#ff0000","#00ff00","#808080","#ff00ff","#ffff00"]}}}}
]}
]}
